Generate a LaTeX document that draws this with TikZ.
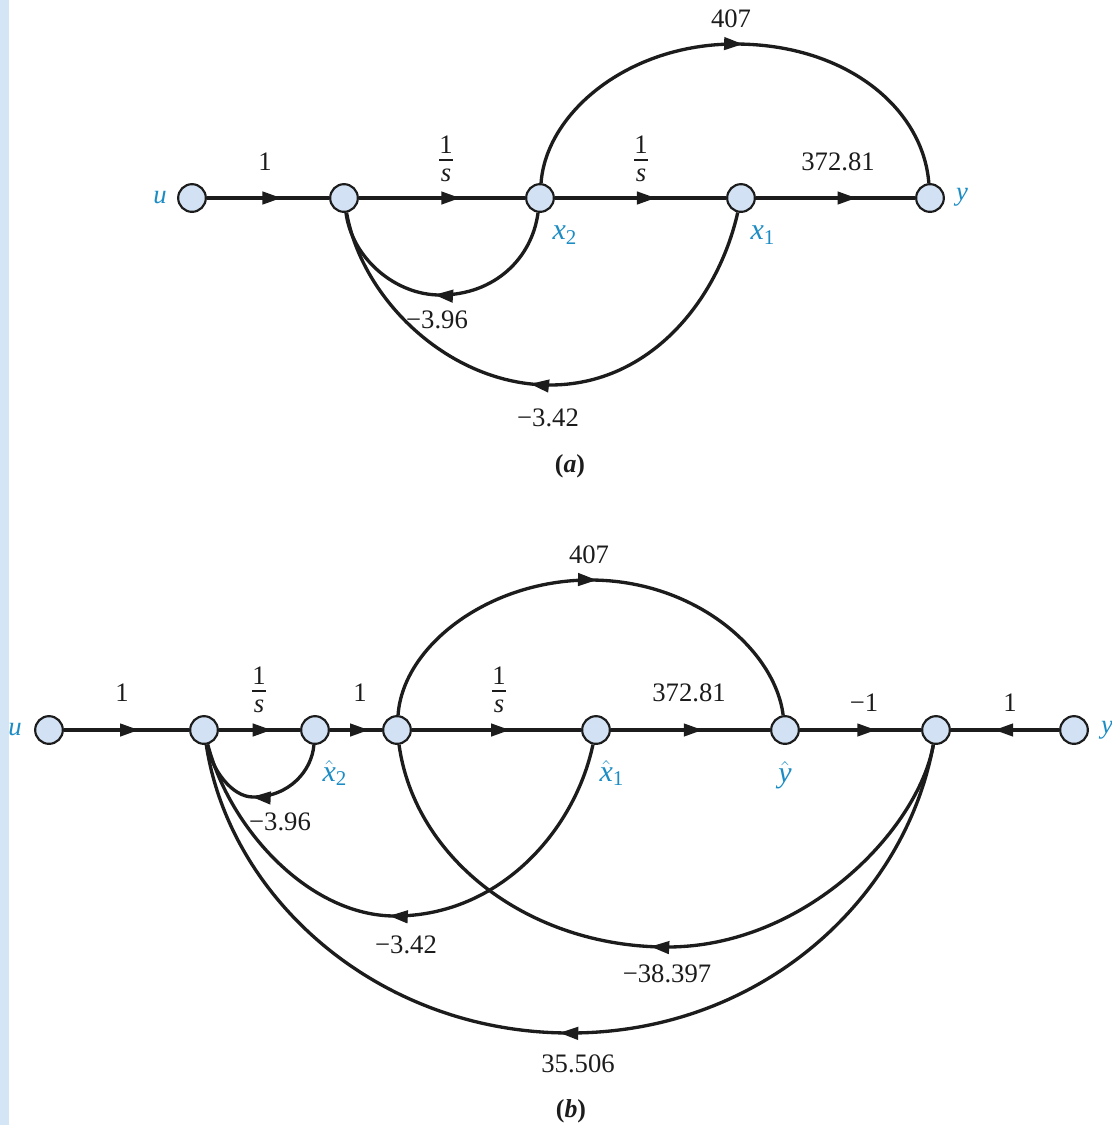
\documentclass[tikz,border=0pt]{standalone}
\usepackage{amsmath}
\usepackage{fontspec}
\setmainfont{Liberation Serif}
\usetikzlibrary{arrows.meta,decorations.markings}
\definecolor{nodefill}{HTML}{D2E2F4}
\definecolor{stripc}{HTML}{D4E5F6}
\definecolor{lblblue}{HTML}{1B8CC4}
\definecolor{inkc}{HTML}{1C1C1C}
\newcommand{\ovr}{\vbox{\offinterlineskip\hbox to 8pt{\hss 1\hss}\kern3.4pt\hrule height 0.8pt\kern5.2pt\hbox to 8pt{\hss\itshape s\hss}}}
\tikzset{
  sfg/.style={circle,draw=inkc,fill=nodefill,line width=1.3pt,minimum size=16.6pt,inner sep=0pt},
  gain/.style={font=\fontsize{16}{18}\selectfont,text=inkc,inner sep=0pt},
  varlabel/.style={font=\fontsize{16}{18}\selectfont\itshape,text=lblblue,inner sep=0pt},
  sublabel/.style={font=\fontsize{18}{20}\selectfont\itshape,text=lblblue,inner sep=0pt},
  capt/.style={font=\fontsize{15.5}{18}\selectfont\bfseries,text=inkc,inner sep=0pt},
  wire/.style={draw=inkc,line width=2pt},
  tipat/.style={postaction={decorate},decoration={markings,mark=at position #1 with {\arrow{Triangle[length=11.4pt,width=7.4pt]}}}}
}
\begin{document}
\begin{tikzpicture}[x=0.6pt,y=-0.6pt]
\useasboundingbox (0,0) rectangle (1112,1125);
\fill[stripc] (0,0) rectangle (9,1125);
% (a)
\node[sfg] (au) at (192,198) {};
\node[sfg] (an) at (344,198) {};
\node[sfg] (ax) at (540,198) {};
\node[sfg] (aw) at (741,198) {};
\node[sfg] (ay) at (930,198) {};
\draw[wire,tipat=0.61,inkc] (au) -- (an);
\draw[wire,tipat=0.61,inkc] (an) -- (ax);
\draw[wire,tipat=0.59,inkc] (ax) -- (aw);
\draw[wire,tipat=0.632,inkc] (aw) -- (ay);
\draw[wire,tipat=0.514,inkc] (ax) .. controls (546,113) and (628,44) .. (735,44) .. controls (846,44) and (923,108) .. (ay);
\draw[wire,tipat=0.53,inkc] (ax) .. controls (532,258) and (495,295) .. (440,295) .. controls (395,295) and (352,258) .. (an);
\draw[wire,tipat=0.525,inkc] (aw) .. controls (718,300) and (650,385) .. (550,385) .. controls (450,385) and (362,300) .. (an);
\node[gain] (al1) at (265,162) {1};
\node[gain] (al2) at (446,159) {\ovr};
\node[gain] (al3) at (641,159) {\ovr};
\node[gain] (al4) at (838,162) {372.81};
\node[gain] (al5) at (731,19) {407};
\node[gain] (al6) at (437,320) {−3.96};
\node[gain] (al7) at (548,418) {−3.42};
\node[capt] (acap) at (570,466) {(\textit{a})};
\node[varlabel] (avu) at (160,198) {u};
\node[varlabel] (avy) at (962,197) {y};
\node[sublabel] (avx) at (565,235) {$\text{\itshape x}_{\text{\upshape 2}}$};
\node[sublabel] (avw) at (763,235) {$\text{\itshape x}_{\text{\upshape 1}}$};
% (b)
\node[sfg] (bu) at (49,730) {};
\node[sfg] (bn) at (204,730) {};
\node[sfg] (bx) at (315,730) {};
\node[sfg] (bm) at (397,730) {};
\node[sfg] (bw) at (596,730) {};
\node[sfg] (bh) at (785,730) {};
\node[sfg] (bs) at (936,730) {};
\node[sfg] (by) at (1074,730) {};
\draw[wire,tipat=0.6,inkc] (bu) -- (bn);
\draw[wire,tipat=0.65,inkc] (bn) -- (bx);
\draw[wire,tipat=0.75,inkc] (bx) -- (bm);
\draw[wire,tipat=0.58,inkc] (bm) -- (bw);
\draw[wire,tipat=0.577,inkc] (bw) -- (bh);
\draw[wire,tipat=0.63,inkc] (bh) -- (bs);
\draw[wire,tipat=0.6,inkc] (by) -- (bs);
\draw[wire,tipat=0.514,inkc] (bm) .. controls (403,645) and (490,580) .. (590,580) .. controls (695,580) and (775,650) .. (bh);
\draw[wire,tipat=0.55,inkc] (bx) .. controls (312,770) and (290,797) .. (253,797) .. controls (232,797) and (212,770) .. (bn);
\draw[wire,tipat=0.522,inkc] (bw) .. controls (575,830) and (500,916) .. (395,916) .. controls (310,916) and (230,830) .. (bn);
\draw[wire,tipat=0.518,inkc] (bs) .. controls (918,830) and (805,947) .. (667,947) .. controls (530,947) and (415,860) .. (bm);
\draw[wire,tipat=0.51,inkc] (bs) .. controls (905,900) and (760,1033) .. (570,1033) .. controls (380,1033) and (230,900) .. (bn);
\node[gain] (bl1) at (122,693) {1};
\node[gain] (bl2) at (259,690) {\ovr};
\node[gain] (bl3) at (360,693) {1};
\node[gain] (bl4) at (499,690) {\ovr};
\node[gain] (bl5) at (689,693) {372.81};
\node[gain] (bl6) at (864,703) {−1};
\node[gain] (bl7) at (1010,703) {1};
\node[gain] (bl8) at (589,555) {407};
\node[gain] (bl9) at (280,822) {−3.96};
\node[gain] (bl10) at (406,945) {−3.42};
\node[gain] (bl11) at (667,974) {−38.397};
\node[gain] (bl12) at (578,1064) {35.506};
\node[capt] (bcap) at (571,1111) {(\textit{b})};
\node[varlabel] (bvu) at (15,730) {u};
\node[varlabel] (bvy) at (1107,730) {y};
\node[sublabel] (bvx) at (335,773) {$\hat{\text{\itshape x}}_{\text{\upshape 2}}$};
\node[sublabel] (bvw) at (612,773) {$\hat{\text{\itshape x}}_{\text{\upshape 1}}$};
\node[sublabel] (bvh) at (785,775) {$\hat{\text{\itshape y}}$};
\end{tikzpicture}
\end{document}
